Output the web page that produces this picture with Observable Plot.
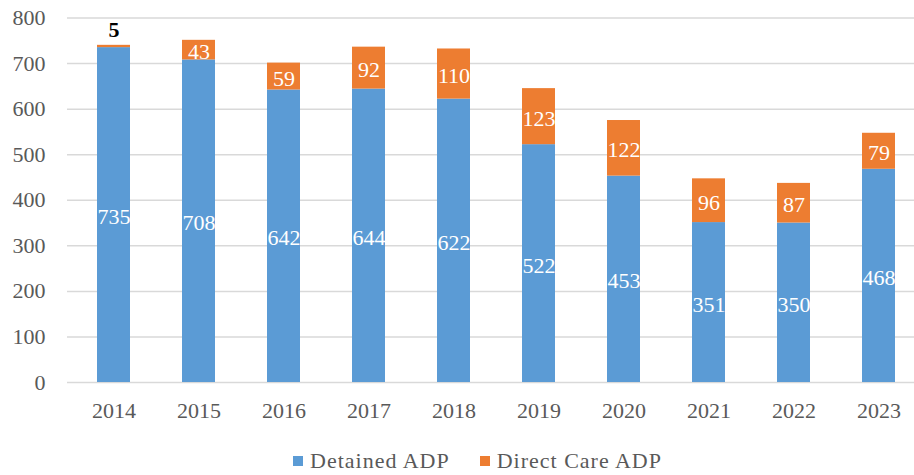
<!DOCTYPE html>
<html>
<head>
<meta charset="utf-8">
<script src="https://cdn.jsdelivr.net/npm/d3@7"></script>
<script src="https://cdn.jsdelivr.net/npm/@observablehq/plot@0.6"></script>
</head>
<body style="margin:0;background:#fff;font-family:'Liberation Serif', serif">
<div id="chart" style="width:914px;font-family:'Liberation Serif', serif"></div>
<script>
const years = ["2014","2015","2016","2017","2018","2019","2020","2021","2022","2023"];
const detained = [735,708,642,644,622,522,453,351,350,468];
const directCare = [5,43,59,92,110,123,122,96,87,79];
const seriesNames = ["Detained ADP","Direct Care ADP"];
const colors = ["#5B9BD5","#ED7D31"];
const yTicks = [0,100,200,300,400,500,600,700,800];

const rows = [];
years.forEach((yr, i) => {
  rows.push({year: yr, series: seriesNames[0], value: detained[i], base: 0});
  rows.push({year: yr, series: seriesNames[1], value: directCare[i], base: detained[i]});
});
const bigLabels = rows.filter(d => d.value >= 20).map(d => ({...d, mid: d.base + d.value / 2}));
const smallLabels = rows.filter(d => d.value < 20).map(d => ({...d, top: d.base + d.value}));

const FF = "Liberation Serif";

const plot = Plot.plot({
  width: 914,
  height: 440,
  marginLeft: 67,
  marginRight: 0,
  marginTop: 17.5,
  marginBottom: 58,
  style: "font-family: 'Liberation Serif', serif; font-size: 22px; color: #595959; background: #fff;",
  x: {domain: years, range: [67, 924], paddingInner: 0.615, paddingOuter: 0.3075, label: null},
  y: {domain: [0, 800], label: null},
  color: {domain: seriesNames, range: colors},
  marks: [
    Plot.gridY(yTicks, {stroke: "#d9d9d9", strokeOpacity: 1, strokeWidth: 1.5}),
    Plot.axisY(yTicks, {tickSize: 0, tickPadding: 22, fontSize: 22, fontFamily: FF, fill: "#595959", label: null}),
    Plot.axisX({tickSize: 0, tickPadding: 20, fontSize: 22, fontFamily: FF, fill: "#595959", label: null}),
    Plot.barY(rows, {x: "year", y1: "base", y2: d => d.base + d.value, fill: "series"}),
    Plot.text(bigLabels, {x: "year", y: "mid", text: d => String(d.value), fill: "white", fontSize: 22, fontFamily: FF, dy: 2}),
    Plot.text(smallLabels, {x: "year", y: "top", text: d => String(d.value), fill: "black", fontWeight: "bold", fontSize: 22, fontFamily: FF, dy: -15})
  ]
});
document.getElementById("chart").appendChild(plot);

const legend = document.createElement("div");
legend.setAttribute("style", "display:flex;justify-content:center;align-items:center;margin-top:8px;margin-left:41px;font-family:'Liberation Serif', serif;font-size:22px;letter-spacing:1px;color:#595959;gap:30px;");
seriesNames.forEach((name, i) => {
  const item = document.createElement("span");
  item.setAttribute("style", "display:flex;align-items:center;font-family:'Liberation Serif', serif;");
  const sw = document.createElement("span");
  sw.setAttribute("style", "display:inline-block;width:10px;height:10px;margin-right:7px;background:" + colors[i]);
  item.appendChild(sw);
  item.appendChild(document.createTextNode(name));
  legend.appendChild(item);
});
document.getElementById("chart").appendChild(legend);
</script>
</body>
</html>
